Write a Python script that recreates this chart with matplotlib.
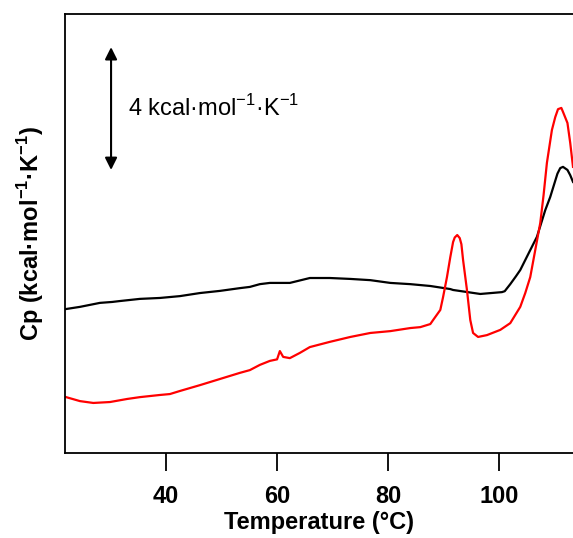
import matplotlib
matplotlib.use("Agg")
import matplotlib.pyplot as plt
import numpy as np

plt.rcParams['font.family'] = 'Liberation Sans'
plt.rcParams['mathtext.fontset'] = 'custom'
plt.rcParams['mathtext.rm'] = 'Liberation Sans'
plt.rcParams['mathtext.bf'] = 'Liberation Sans:bold'

# temperature (C) and Cp (kcal/mol/K, arbitrary offset)
black_T = [22.0, 24.5, 28.1, 30.3, 31.7, 35.3, 38.9, 42.5, 46.1, 49.7, 53.3, 55.1,
           56.9, 58.7, 62.3, 65.9, 69.5, 73.2, 76.8, 80.4, 84.0, 87.6, 91.2, 91.7,
           96.6, 100.5, 101.0, 102.0, 103.0, 103.8, 105.6, 106.8, 108.3, 109.2,
           109.9, 110.5, 111.0, 111.5, 112.3, 112.8, 113.3]
black_cp = [4.69, 4.76, 4.89, 4.92, 4.95, 5.02, 5.05, 5.11, 5.21, 5.28, 5.37, 5.41,
            5.50, 5.54, 5.54, 5.70, 5.70, 5.67, 5.63, 5.54, 5.50, 5.44, 5.34, 5.31,
            5.18, 5.24, 5.27, 5.50, 5.75, 5.96, 6.61, 7.04, 7.91, 8.34,
            8.75, 9.10, 9.28, 9.32, 9.22, 9.05, 8.83]

red_T = [22.0, 24.5, 26.9, 29.9, 33.0, 35.3, 38.9, 40.7, 42.5, 46.1, 49.7, 53.3,
         55.1, 56.9, 58.7, 60.0, 60.5, 61.1, 62.3, 64.1, 65.9, 69.5, 73.2, 76.8,
         80.4, 84.0, 85.8, 87.6, 88.1, 89.4, 89.9, 90.6, 91.2, 91.7, 92.0, 92.45,
         92.9, 93.2, 93.5, 94.2, 94.8, 95.3, 96.2, 97.8, 100.2, 102.0, 103.8, 104.7,
         105.6, 106.5, 107.4, 108.0, 108.6, 109.5, 110.1, 110.6, 111.2, 111.5,
         112.3, 112.8, 113.3]
red_cp = [1.82, 1.69, 1.63, 1.66, 1.76, 1.82, 1.89, 1.92, 2.02, 2.21, 2.41, 2.61,
          2.70, 2.87, 3.00, 3.05, 3.32, 3.13, 3.09, 3.26, 3.45, 3.62, 3.78, 3.91,
          3.97, 4.07, 4.10, 4.20, 4.33, 4.66, 5.08, 5.73, 6.38, 6.87, 7.02, 7.10,
          7.00, 6.80, 6.29, 5.31, 4.33, 3.91, 3.78, 3.84, 4.01, 4.23, 4.76, 5.21,
          5.73, 6.61, 7.49, 8.40, 9.45, 10.52, 10.94, 11.20, 11.24, 11.11,
          10.75, 10.10, 9.32]

fig = plt.figure(figsize=(5.73, 5.38), dpi=100)
ax = fig.add_axes([0.1134, 0.158, 0.8866, 0.816])

ax.plot(black_T, black_cp, color='black', lw=1.6)
ax.plot(red_T, red_cp, color='red', lw=1.6)

ax.set_xlim(21.8, 113.3)
ax.set_ylim(0, 14.3)
ax.set_xticks([40, 60, 80, 100])
ax.set_yticks([])
ax.tick_params(axis='x', direction='out', length=13, width=1.3, pad=10, labelsize=17)
for lab in ax.get_xticklabels():
    lab.set_fontweight('bold')
ax.spines['right'].set_visible(False)
for s in ['left', 'top', 'bottom']:
    ax.spines[s].set_linewidth(1.3)

ax.set_xlabel('Temperature (°C)', fontsize=17, fontweight='bold', labelpad=2)
ax.set_ylabel(r'Cp (kcal·mol$^{\mathbf{-1}}$·K$^{\mathbf{-1}}$)', fontsize=17,
              fontweight='bold', labelpad=14)

# scale bar: 4 kcal/mol/K
ax.annotate('', xy=(30.1, 13.22), xytext=(30.1, 9.22),
            arrowprops=dict(arrowstyle='<|-|>', color='black', lw=1.5,
                            mutation_scale=18, shrinkA=0, shrinkB=0))
ax.text(33.2, 11.24, r'4 kcal·mol$^{-1}$·K$^{-1}$', fontsize=17,
        ha='left', va='center')

fig.savefig('out.png', dpi=100)
